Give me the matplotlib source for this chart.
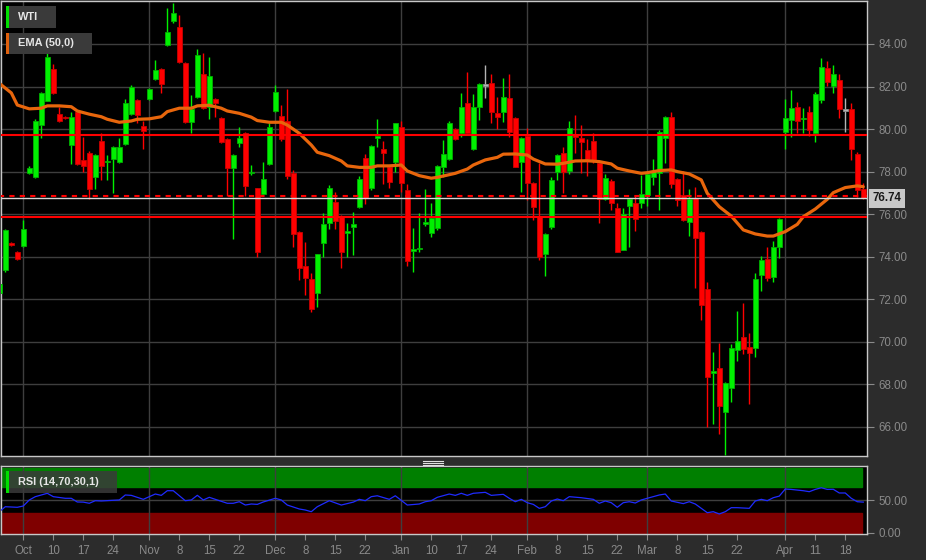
import matplotlib
matplotlib.use("Agg")
from matplotlib import pyplot as plt
from matplotlib.patches import Rectangle
from matplotlib.lines import Line2D
import matplotlib.transforms as mtransforms

plt.rcParams["font.family"] = ["Liberation Sans", "DejaVu Sans"]

# daily candles, one entry per trading day (Oct -> Apr)
opens = [72.3, 73.38, 74.65, 74.22, 74.5, 77.94, 77.75, 80.2, 81.32, 82.83,
         80.71, 80.55, 79.25, 80.8, 78.55, 78.88, 77.75, 79.44, 78.43, 78.6,
         78.45, 79.3, 80.7, 81.37, 80.15, 81.42, 82.35, 82.83, 83.95, 85.08,
         84.8, 83.1, 80.33, 81.51, 82.59, 81.04, 81.42, 80.52, 79.54, 78.17,
         79.35, 79.82, 77.93, 77.22, 76.93, 78.36, 80.85, 80.62, 80.38, 77.92,
         75.15, 73.58, 72.95, 72.28, 74.66, 75.57, 76.56, 75.91, 75.1, 75.38,
         76.32, 78.66, 77.25, 79.58, 79.07, 78.23, 78.47, 80.11, 77.14, 74.27,
         74.35, 75.54, 75.1, 75.37, 78.23, 78.59, 80.0, 79.83, 81.24, 79.07,
         81.05, 82.04, 82.15, 80.77, 80.82, 81.48, 80.51, 78.44, 79.68, 77.48,
         75.88, 74.11, 75.38, 78.0, 78.86, 78.05, 79.77, 79.57, 79.02, 79.44,
         78.39, 76.7, 77.56, 76.31, 74.32, 76.39, 76.51, 76.51, 76.9, 77.76,
         77.95, 79.6, 80.59, 77.65, 76.9, 75.65, 76.75, 75.18, 72.48, 68.55,
         68.78, 66.71, 67.85, 69.61, 70.21, 69.74, 69.72, 73.14, 73.9, 73.03,
         74.47, 79.88, 80.43, 81.05, 80.46, 80.79, 79.8, 81.37, 82.89, 82.04,
         82.31, 80.86, 80.93, 78.83, 77.17]
highs = [72.75, 75.3, 74.7, 74.25, 75.73, 78.27, 80.45, 81.75, 83.6, 83.06,
         81.04, 80.6, 80.8, 80.85, 79.63, 78.95, 78.85, 79.8, 78.8, 79.2,
         79.58, 81.4, 82.05, 81.4, 80.38, 81.95, 83.25, 82.88, 85.7, 85.93,
         85.37, 83.15, 81.6, 83.77, 83.58, 83.4, 81.45, 80.55, 79.6, 78.85,
         80.1, 79.85, 78.3, 77.25, 78.47, 80.3, 82.07, 81.11, 81.88, 78.08,
         75.2, 74.71, 73.22, 74.15, 76.07, 77.37, 77.06, 75.95, 75.6, 76.12,
         77.8, 78.83, 79.25, 80.46, 79.44, 78.3, 80.3, 80.4, 77.4, 75.34,
         76.07, 77.17, 76.51, 78.3, 79.49, 80.4, 80.05, 81.68, 82.7, 81.65,
         82.15, 83.0, 82.59, 81.49, 82.39, 82.58, 80.55, 79.65, 80.04, 77.5,
         78.39, 75.1, 77.76, 78.85, 79.14, 80.38, 80.66, 80.19, 79.52, 79.8,
         78.45, 77.89, 77.65, 76.54, 76.28, 76.75, 76.9, 77.84, 77.92, 78.58,
         79.95, 80.62, 80.82, 77.7, 78.05, 77.17, 77.26, 75.2, 72.8, 69.51,
         69.93, 68.1, 69.88, 71.45, 71.81, 70.43, 73.22, 74.04, 74.44, 74.74,
         75.8, 81.4, 81.84, 81.29, 80.98, 81.09, 81.74, 83.33, 83.2, 83.01,
         82.59, 81.48, 81.21, 78.94, 77.45]
lows = [71.97, 73.3, 74.5, 73.85, 74.45, 77.9, 77.7, 79.6, 81.3, 81.65,
        80.35, 80.45, 78.36, 78.3, 77.98, 76.7, 77.18, 77.6, 77.6, 77.0,
        78.4, 79.25, 80.65, 80.28, 79.06, 81.38, 82.3, 81.7, 83.9, 85.0,
        83.1, 80.3, 79.8, 81.45, 80.95, 80.47, 80.57, 79.35, 76.87, 74.82,
        79.16, 76.87, 77.85, 73.97, 76.9, 78.3, 80.8, 79.45, 77.65, 74.44,
        72.9, 72.2, 71.39, 71.62, 73.97, 75.29, 75.29, 73.46, 73.97, 74.08,
        76.28, 76.48, 77.14, 79.14, 77.42, 77.22, 78.0, 77.06, 73.56, 73.3,
        74.21, 75.46, 74.94, 75.26, 77.76, 78.55, 79.5, 79.64, 79.8, 79.0,
        80.43, 81.45, 80.27, 80.0, 80.32, 79.61, 78.2, 77.06, 76.67, 75.72,
        73.85, 73.1, 75.3, 77.61, 76.98, 77.89, 78.86, 77.92, 77.8, 78.39,
        75.6, 76.65, 76.2, 74.2, 74.3, 74.47, 75.21, 76.31, 76.39, 77.37,
        76.2, 78.42, 77.22, 76.4, 75.7, 74.97, 72.54, 71.03, 66.01, 66.12,
        65.65, 64.7, 67.19, 69.11, 69.41, 67.06, 69.3, 72.41, 72.88, 72.8,
        73.93, 79.05, 79.64, 79.8, 79.8, 79.68, 79.41, 81.21, 82.03, 81.68,
        80.51, 79.88, 78.55, 76.82, 76.7]
closes = [72.72, 75.26, 74.55, 73.89, 75.3, 78.17, 80.38, 81.7, 83.39, 81.7,
          80.38, 80.5, 80.57, 78.36, 78.27, 77.18, 78.78, 78.27, 78.47, 79.16,
          79.16, 81.23, 81.98, 80.66, 79.91, 81.88, 82.78, 82.12, 84.57, 85.45,
          83.16, 80.33, 80.95, 83.48, 81.0, 82.5, 81.23, 79.4, 78.17, 78.78,
          79.58, 77.33, 77.98, 74.21, 77.65, 80.1, 81.74, 79.54, 77.8, 75.05,
          73.46, 72.99, 71.53, 74.11, 75.54, 77.22, 75.68, 74.24, 75.22, 75.53,
          77.64, 76.75, 79.2, 79.68, 78.86, 77.53, 80.27, 77.48, 73.81, 74.38,
          74.41, 75.65, 75.81, 78.27, 78.81, 80.3, 79.54, 81.02, 79.83, 81.05,
          82.12, 82.04, 80.82, 80.55, 81.49, 79.88, 78.23, 79.6, 77.48, 76.35,
          73.97, 75.07, 77.61, 78.78, 78.0, 80.07, 79.61, 79.41, 78.58, 78.5,
          76.7, 77.69, 76.54, 74.24, 76.0, 76.72, 75.78, 76.94, 77.89, 78.03,
          79.88, 80.59, 77.4, 76.67, 75.72, 76.72, 74.9, 71.73, 68.36, 68.6,
          66.98, 68.05, 69.7, 70.03, 69.66, 69.46, 72.94, 73.85, 72.99, 74.47,
          75.77, 80.54, 80.98, 80.38, 80.54, 79.96, 81.65, 82.9, 82.2, 82.58,
          80.94, 80.86, 79.05, 77.14, 76.74]

# EMA(50) at some trading days
ema_idx = [0, 2, 3, 5, 7, 8, 10, 12, 13, 15, 17, 18, 20, 22, 23, 25, 27, 28,
           30, 32, 33, 35, 37, 38, 40, 42, 43, 45, 47, 48, 50, 52, 53, 55, 57,
           58, 60, 62, 63, 65, 67, 68, 70, 72, 73, 76, 78, 79, 81, 83, 84, 86,
           88, 89, 91, 93, 94, 96, 98, 100, 102, 103, 105, 107, 108, 110, 112,
           113, 115, 117, 118, 120, 122, 124, 126, 128, 129, 131, 133, 134,
           136, 138, 139, 141, 143, 144]
ema_val = [82.15, 81.7, 81.13, 80.95, 80.98, 81.09, 81.09, 81.05, 80.85, 80.7,
           80.58, 80.46, 80.32, 80.38, 80.46, 80.48, 80.58, 80.82, 80.98, 80.98,
           81.09, 81.12, 80.98, 80.85, 80.74, 80.56, 80.4, 80.32, 80.32, 80.19,
           79.8, 79.25, 78.91, 78.75, 78.5, 78.27, 78.2, 78.2, 78.27, 78.27,
           78.31, 78.03, 77.81, 77.69, 77.73, 77.92, 78.12, 78.31, 78.55, 78.67,
           78.82, 78.83, 78.78, 78.59, 78.36, 78.35, 78.39, 78.5, 78.51, 78.47,
           78.36, 78.16, 78.03, 77.92, 77.95, 78.05, 78.08, 78.0, 77.89, 77.61,
           76.98, 76.35, 75.91, 75.26, 75.07, 74.97, 74.97, 75.18, 75.52, 75.88,
           76.24, 76.7, 77.01, 77.25, 77.33, 77.29]

# RSI(14)
rsi_idx = [0, 1, 3, 4, 5, 6, 8, 9, 11, 12, 13, 14, 15, 16, 17, 20, 21, 22, 24,
           26, 27, 28, 29, 31, 32, 33, 34, 35, 36, 38, 39, 40, 41, 42, 43, 44,
           46, 47, 48, 50, 51, 52, 53, 55, 57, 59, 60, 61, 62, 63, 65, 66, 68,
           70, 71, 72, 73, 75, 76, 77, 78, 79, 81, 82, 84, 85, 86, 87, 88, 89,
           90, 91, 92, 93, 94, 95, 97, 99, 100, 101, 102, 103, 104, 105, 106,
           107, 108, 110, 111, 112, 113, 114, 115, 116, 117, 118, 119, 120,
           121, 122, 123, 125, 126, 127, 128, 129, 130, 131, 132, 134, 135,
           136, 137, 138, 139, 140, 141, 142, 143, 144]
rsi_val = [32.4, 40.1, 39.2, 41.2, 50.5, 55.6, 60.8, 55.6, 53.1, 53.1, 47.4,
           47.2, 45.4, 49.4, 49.0, 50.5, 58.2, 57.6, 51.5, 59.7, 57.6, 64.8,
           64.8, 49.4, 50.5, 57.7, 50.5, 54.6, 51.5, 45.4, 45.4, 47.8, 42.7,
           44.3, 43.7, 47.4, 53.1, 50.5, 42.7, 36.6, 35.0, 32.4, 40.1, 49.4,
           42.7, 47.2, 51.5, 49.4, 55.6, 57.0, 51.5, 57.0, 42.7, 44.3, 47.8,
           49.4, 54.6, 59.7, 57.6, 60.8, 57.6, 60.8, 62.3, 57.6, 59.2, 53.1,
           47.8, 51.5, 46.3, 43.7, 37.6, 40.1, 48.9, 52.0, 49.4, 55.6, 54.0,
           51.5, 45.4, 48.9, 46.3, 39.2, 46.3, 47.8, 45.8, 50.5, 53.1, 58.2,
           59.7, 48.9, 46.9, 44.9, 47.8, 44.3, 37.6, 30.9, 32.4, 28.9, 32.4,
           38.6, 38.6, 37.6, 48.9, 51.5, 49.4, 54.0, 56.5, 67.4, 66.8, 64.8,
           63.3, 66.8, 69.4, 66.8, 67.0, 61.3, 61.3, 53.1, 47.8, 47.2]

tick_idx = [4, 9, 14, 19, 25, 30, 35, 40, 46, 51, 56, 61, 67, 72, 77, 82,
            88, 93, 98, 103, 108, 113, 118, 123, 131, 136, 141]
tick_labels = ["Oct", "10", "17", "24", "Nov", "8", "15", "22", "Dec", "8",
               "15", "22", "Jan", "10", "17", "24", "Feb", "8", "15", "22",
               "Mar", "8", "15", "22", "Apr", "11", "18"]
month_idx = [4, 25, 46, 67, 88, 108, 131]

resistance = 79.72
support = 75.88
prev_close = 76.85
last_price = 76.74

BG = "#2c2c2c"
W, H = 926, 560
fig = plt.figure(figsize=(W / 100, H / 100), dpi=100, facecolor=BG)


def pxBox(left, top, right, bottom):
    return [left / W, 1 - bottom / H, (right - left) / W, (bottom - top) / H]


ax = fig.add_axes(pxBox(1, 1, 867, 455.5))
rsiAx = fig.add_axes(pxBox(1, 465.7, 867, 534.3), sharex=ax)

for a in (ax, rsiAx):
    a.set_facecolor("black")
    for s in a.spines.values():
        s.set_color("#c8c8c8")
        s.set_linewidth(1)
    for m in month_idx:
        a.axvline(m, color="#3e3e3e", lw=1, zorder=1)

# price panel
ax.set_xlim(0.283, 144.62)
ax.set_ylim(64.655, 86.02)
ax.set_yticks(range(66, 85, 2))
ax.set_yticklabels(["%.2f" % v for v in range(66, 85, 2)])
ax.yaxis.tick_right()
ax.grid(axis="y", color="#3e3e3e", lw=1, zorder=1)
ax.tick_params(axis="y", colors="#8a8a8a", labelsize=8.3, length=5, pad=3)
ax.tick_params(axis="x", bottom=False, labelbottom=False)

for i in range(len(opens)):
    o, h, l, c = opens[i], highs[i], lows[i], closes[i]
    if c > o:
        col, edge = "#00f000", "#00b000"
    elif c < o:
        col, edge = "#ff0000", "#c80000"
    else:
        col, edge = "#b4b4b4", "#909090"
    ax.vlines(i, l, h, color=col, lw=1, zorder=3)
    ax.bar(i, max(abs(c - o), 0.07), width=0.8, bottom=min(o, c),
           color=col, edgecolor=edge, lw=0.6, zorder=4)

ax.plot(ema_idx, ema_val, color="#e8660c", lw=2.3, zorder=5,
        solid_capstyle="round")

ax.axhline(resistance, color="#ff0000", lw=1.5, zorder=6)
ax.axhline(support, color="#ff0000", lw=1.5, zorder=6)
ax.axhline(prev_close, color="#ff0000", lw=1.5, ls=(1, (2.5, 2.5)), zorder=6)
ax.axhline(last_price, color="#d6d6d6", lw=1, zorder=6)

trans = mtransforms.blended_transform_factory(ax.transAxes, ax.transData)
ax.text(1.006, last_price, "%.2f" % last_price, transform=trans, ha="left",
        va="center", fontsize=8.3, fontweight="bold", color="#1a1a1a",
        bbox=dict(boxstyle="square,pad=0.3", fc="#c8c8c8", ec="none"))

# RSI panel
rsiAx.set_ylim(-2.47, 103.4)
rsiAx.axhspan(70, 100, xmin=0, xmax=0.994, color="#007f00", zorder=0.5)
rsiAx.axhspan(0, 30, xmin=0, xmax=0.994, color="#7f0000", zorder=0.5)
rsiAx.axhline(50, color="#3e3e3e", lw=1, zorder=1)
rsiAx.plot(rsi_idx, rsi_val, color="#1f2bff", lw=0.9, zorder=3)
rsiAx.yaxis.tick_right()
rsiAx.set_yticks([0, 50])
rsiAx.set_yticklabels(["0.00", "50.00"])
rsiAx.tick_params(axis="y", colors="#8a8a8a", labelsize=8.3, length=5, pad=3)
rsiAx.set_xticks(tick_idx)
rsiAx.set_xticklabels(tick_labels)
rsiAx.tick_params(axis="x", colors="#8a8a8a", labelsize=8.3, length=4, pad=4)

# legend chips
def chip(left, top, right, bottom, barColor, label, alpha=1.0):
    l, b, w, h = pxBox(left, top, right, bottom)
    fig.add_artist(Rectangle((l, b), w, h, transform=fig.transFigure,
                             fc="#3a3a3a", ec="none", alpha=alpha, zorder=10))
    fig.add_artist(Rectangle((l, b), 3 / W, h, transform=fig.transFigure,
                             fc=barColor, ec="none", zorder=11))
    fig.text((left + 12) / W, 1 - (top + bottom) / 2 / H, label,
             color="#e6e6e6", fontsize=7.9, fontweight="bold",
             va="center", ha="left", zorder=12)


chip(6, 6, 56, 28, "#00e000", "WTI")
chip(6, 33, 92, 54, "#e0600c", "EMA (50,0)")
chip(6, 471, 117, 493, "#00e000", "RSI (14,70,30,1)", alpha=0.85)

# splitter handle between panels
for yy in (460.5, 462.5, 464.5):
    fig.add_artist(Line2D([423 / W, 443 / W], [1 - yy / H, 1 - yy / H],
                          color="#e0e0e0", lw=0.8))

fig.savefig("out.png", dpi=100, facecolor=BG)
